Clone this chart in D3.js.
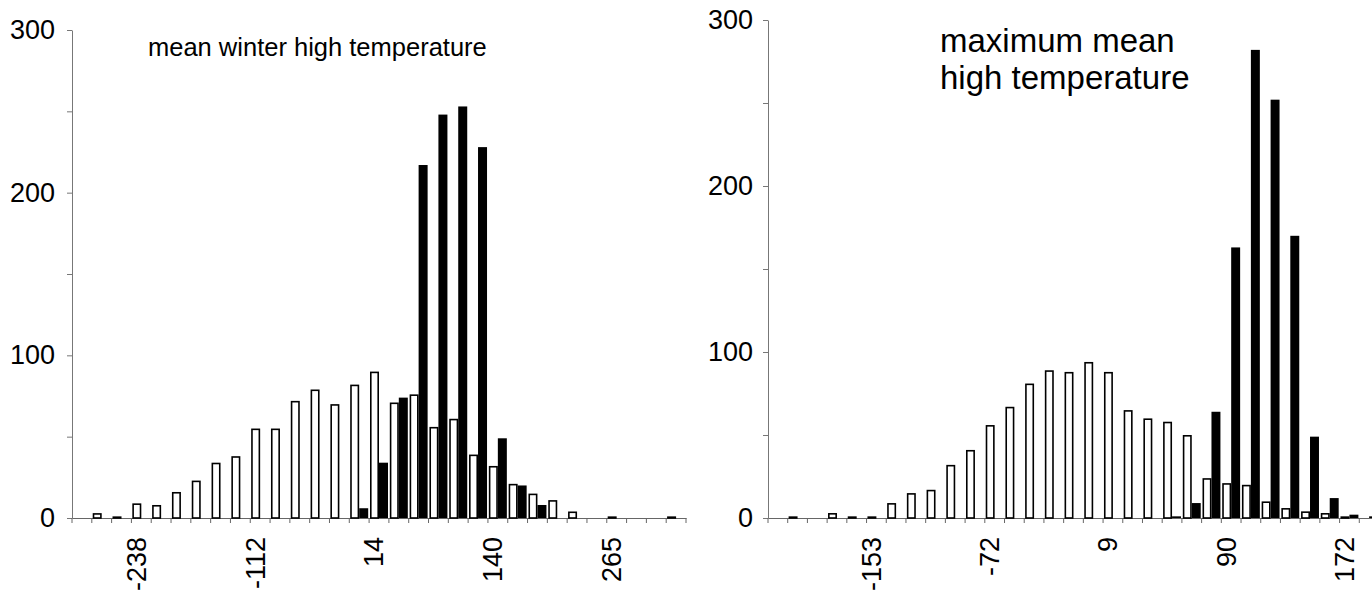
<!DOCTYPE html>
<html>
<head>
<meta charset="utf-8">
<script src="https://cdn.jsdelivr.net/npm/d3@7"></script>
<style>
body{margin:0;background:#fff;}
text{font-family:"Liberation Sans",Arial,sans-serif;fill:#000;}
</style>
</head>
<body>
<svg id="chart" width="1372" height="590"></svg>
<script>
//Bin labels for the two histograms (only some are printed on the axis)
var leftBins = ["-301","-280","-259","-238","-217","-196","-175","-154","-133","-112","-91","-70","-49","-28","-7","14","35","56","77","98","119","140","161","182","203","223","244","265","286","307","328"];
var leftShown = ["-238","-112","14","140","265"];
var leftWhite = [0,3,1,9,8,16,23,34,38,55,55,72,79,70,82,90,71,76,56,61,39,32,21,15,11,4,0,1,0,0,1];
var leftBlack = [0,0,0,0,0,0,0,0,0,0,0,0,0,0,6,34,74,217,248,253,228,49,20,8,0,0,0,0,0,0,0];

var rightBins = ["-220","-207","-193","-180","-166","-153","-139","-126","-112","-99","-85","-72","-58","-45","-31","-18","-4","9","22","36","49","63","76","90","103","117","130","144","157","172","184"];
var rightShown = ["-153","-72","9","90","172"];
var rightWhite = [0,1,0,3,1,1,9,15,17,32,41,56,67,81,89,88,94,88,65,60,58,50,24,21,20,10,6,4,3,1,0];
var rightBlack = [0,0,0,0,0,0,0,0,0,0,0,0,0,0,0,0,0,0,0,0,1,9,64,163,282,252,170,49,12,2,1];

var yTicks = [0,50,100,150,200,250,300];
var yLabels = [0,100,200,300];

var svg = d3.select('#chart');

//Draws one histogram panel
function drawPanel(p){
  var g = svg.append('g');
  var x = d3.scaleBand().domain(p.bins).range([p.x0,p.x1]).padding(0);
  var xs = d3.scaleBand().domain(['w','b']).range([0,x.bandwidth()]).paddingOuter(0.1);
  var y = d3.scaleLinear().domain([0,300]).range([p.yBase,p.yTop]);
  var sw = 1.6;

  //y axis
  var ya = g.append('g').attr('transform','translate('+p.x0+',0)')
    .call(d3.axisLeft(y).tickValues(yTicks).tickSize(5).tickSizeOuter(0).tickPadding(p.labPad)
      .tickFormat(function(d){return yLabels.indexOf(d)>=0 ? d : '';}));
  ya.selectAll('path,line').attr('stroke','#777').attr('stroke-width',1);
  ya.selectAll('text').attr('font-size','27px').attr('font-family','"Liberation Sans",Arial,sans-serif').attr('fill','#000');

  //x axis: labels under chosen bins, ticks on bin edges
  var xa = g.append('g').attr('transform','translate(0,'+p.yBase+')')
    .call(d3.axisBottom(x).tickValues(p.shown).tickSize(0).tickSizeOuter(0));
  xa.select('.domain').attr('stroke','#666').attr('stroke-width',1);
  xa.selectAll('text').attr('font-size','27px').attr('font-family','"Liberation Sans",Arial,sans-serif').attr('fill','#000')
    .attr('text-anchor','end').attr('x',0).attr('y',0).attr('dy','0.35em')
    .attr('transform','translate(-5,19) rotate(-90)');
  var edges = p.bins.map(function(b){return x(b);}).concat([p.x1]);
  g.selectAll('.xt').data(edges).enter().append('line').attr('class','xt')
    .attr('x1',function(d){return d;}).attr('x2',function(d){return d;})
    .attr('y1',p.yBase).attr('y2',p.yBase+5).attr('stroke','#666').attr('stroke-width',1);

  var rows = p.bins.map(function(b,i){return {bin:b,w:p.white[i],b:p.black[i]};});

  //white (outlined) bars
  g.selectAll('.wb').data(rows.filter(function(d){return d.w>0;})).enter().append('rect').attr('class','wb')
    .attr('x',function(d){return x(d.bin)+xs('w')+sw/2;})
    .attr('width',xs.bandwidth()-sw)
    .attr('y',function(d){return y(d.w)+sw/2;})
    .attr('height',function(d){return Math.max(0.3,p.yBase-y(d.w)-sw/2);})
    .attr('fill','#fff').attr('stroke','#000').attr('stroke-width',sw);

  //black bars
  g.selectAll('.bb').data(rows.filter(function(d){return d.b>0;})).enter().append('rect').attr('class','bb')
    .attr('x',function(d){return x(d.bin)+xs('b');})
    .attr('width',xs.bandwidth())
    .attr('y',function(d){return y(d.b);})
    .attr('height',function(d){return p.yBase-y(d.b);})
    .attr('fill','#000');

  //title
  var t = g.append('text').attr('x',p.titleX).attr('y',p.titleY).attr('font-size',p.titleSize+'px');
  p.title.forEach(function(line,i){
    t.append('tspan').attr('x',p.titleX).attr('dy',i==0?0:p.titleLead).text(line);
  });
}

drawPanel({bins:leftBins,shown:leftShown,white:leftWhite,black:leftBlack,
  x0:72,x1:686,yBase:518,yTop:30,labPad:12,
  title:['mean winter high temperature'],titleX:148,titleY:56,titleSize:25.5,titleLead:0});

drawPanel({bins:rightBins,shown:rightShown,white:rightWhite,black:rightBlack,
  x0:768,x1:1379,yBase:518,yTop:20,labPad:10,
  title:['maximum mean','high temperature'],titleX:940,titleY:52,titleSize:33,titleLead:37});
</script>
</body>
</html>
